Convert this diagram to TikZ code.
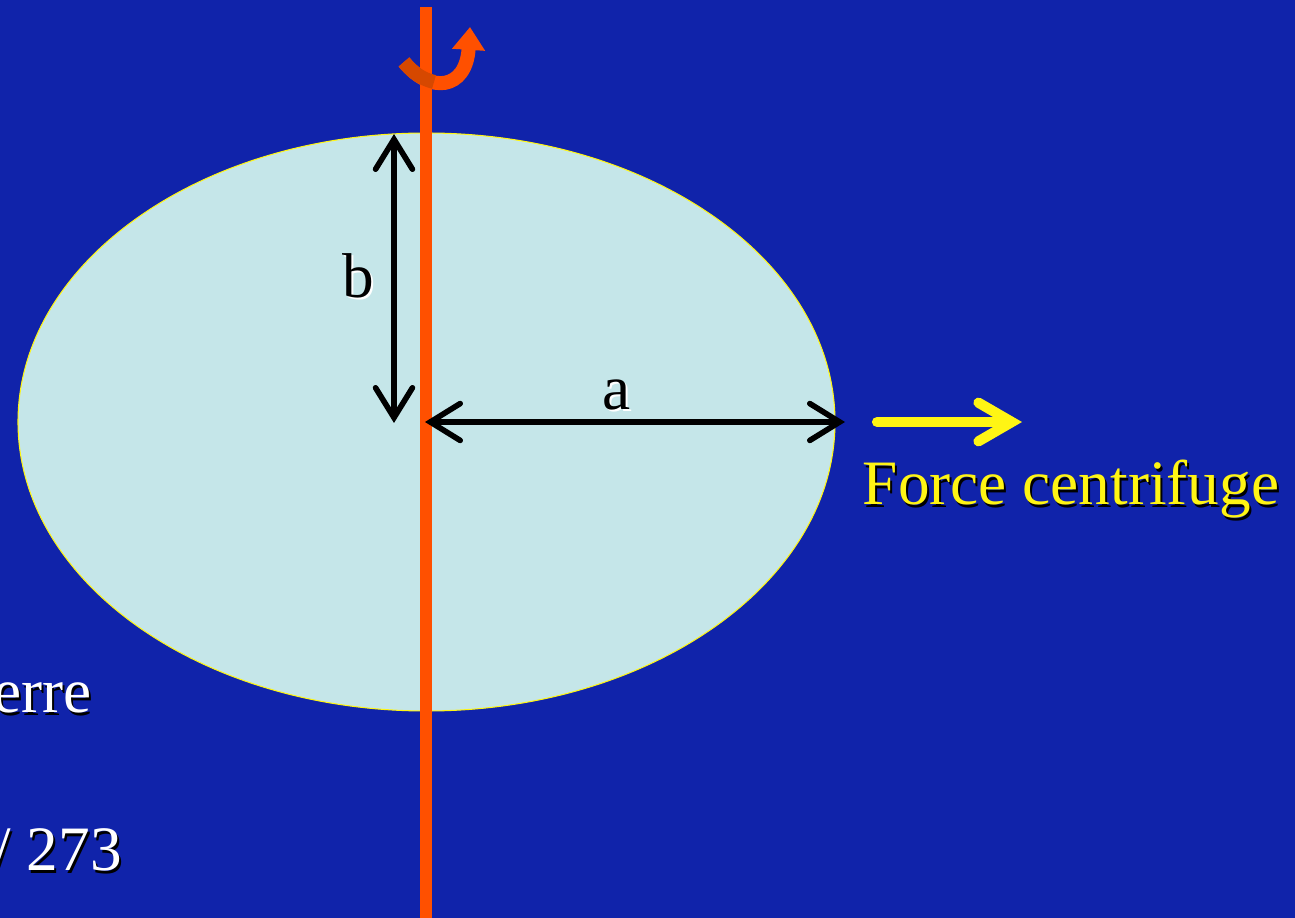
\documentclass[tikz,border=0pt]{standalone}
\usepackage{fontspec}
\setmainfont{Liberation Serif}
\usetikzlibrary{arrows.meta}
\definecolor{bgblue}{RGB}{16,35,170}
\definecolor{earth}{RGB}{197,230,233}
\definecolor{axisorange}{RGB}{255,80,0}
\definecolor{frontorange}{RGB}{214,72,0}
\definecolor{forceyellow}{RGB}{255,245,20}
\tikzset{
  lbl/.style={font=\fontsize{36}{40}\selectfont, inner sep=0pt},
  dimarrow/.style={draw=black, line width=3.2pt, line cap=round,
    {Straight Barb[length=17pt,width=21pt,line cap=round]}-{Straight Barb[length=17pt,width=21pt,line cap=round]}},
  forcearrow/.style={draw=forceyellow, line width=5.8pt, line cap=round,
    -{Straight Barb[length=19pt,width=22pt,line cap=round]}}
}
\begin{document}
\begin{tikzpicture}[x=0.02cm, y=-0.02cm]
    % Background
    \fill[bgblue] (0,0) rectangle (1295,918);
    \useasboundingbox (0,0) rectangle (1295,918);
    % Ellipse (Earth)
    \draw[fill=earth, draw=forceyellow, line width=0.6pt] (426.5,422) ellipse [x radius=408.5, y radius=289];
    % Axis of rotation
    \coordinate (axtop) at (426,7);
    \coordinate (axbot) at (426,918);
    \draw[axisorange, line width=6.8pt] (axtop) -- (axbot);
    % Rotation arrow
    \draw[axisorange, line width=8pt, -{Triangle[length=13pt,width=18pt]}] (404,62) .. controls (430,94) and (466,90) .. (470,27);
    \draw[frontorange, line width=8pt] (404,62) .. controls (413,73) and (422,79) .. (434,82);
    % Dimension arrows
    \coordinate (btop) at (394,134);
    \coordinate (bbot) at (394,423);
    \coordinate (center) at (425,422);
    \coordinate (aend) at (845,422);
    \draw[dimarrow] (btop) -- (bbot);
    \draw[dimarrow] (center) -- (aend);
    % Centrifugal force
    \coordinate (fstart) at (877,422);
    \coordinate (fend) at (1022,422);
    \draw[forcearrow] (fstart) -- (fend);
    % Labels (with shadow)
    \node[lbl, text=white, anchor=base] (bsh) at (360,300) {b};
    \node[lbl, text=black, anchor=base] (blab) at (358,298) {b};
    \node[lbl, text=white, anchor=base] (ash) at (619,412) {a};
    \node[lbl, text=black, anchor=base] (alab) at (617,410) {a};
    \node[lbl, text=black, anchor=base] (fsh) at (1073,508) {Force centrifuge};
    \node[lbl, text=forceyellow, anchor=base] (flab) at (1071,505) {Force centrifuge};
    \node[lbl, text=black, anchor=base east] (tsh) at (94,715) {erre};
    \node[lbl, text=white, anchor=base east] (tlab) at (92,712) {erre};
    \node[lbl, text=black, anchor=base east] (nsh) at (124,873) {/ 273};
    \node[lbl, text=white, anchor=base east] (nlab) at (122,870) {/ 273};
\end{tikzpicture}
\end{document}
